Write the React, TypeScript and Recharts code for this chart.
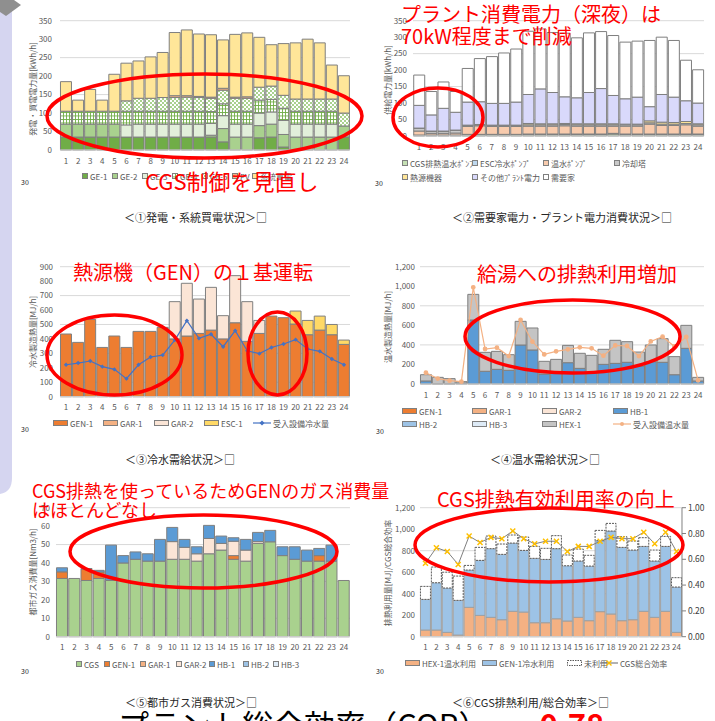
import React from 'react';
import { BarChart, Bar, ComposedChart, Line, XAxis, YAxis, CartesianGrid } from 'recharts';

const FONT = '"Noto Sans CJK JP", "Noto Sans", sans-serif';
const TICK = { fontSize: 8, fill: '#595959', fontFamily: FONT };
const EDGE = '#7f7f7f';
const GRID = '#d9d9d9';
const RED = '#ff0000';

const hours = ['1', '2', '3', '4', '5', '6', '7', '8', '9', '10', '11', '12', '13', '14', '15', '16', '17', '18', '19', '20', '21', '22', '23', '24'];

// ① 発電・系統買電状況 [kWh/h]
const ge1Out = [35, 35, 35, 35, 35, 35, 35, 35, 35, 35, 35, 35, 35, 22, 0, 0, 33, 35, 8, 0, 0, 0, 0, 35];
const ge2Out = [35, 35, 35, 35, 35, 0, 0, 0, 0, 0, 0, 0, 5, 36, 35, 35, 33, 35, 34, 35, 35, 35, 35, 30];
const ge3Out = [0, 0, 0, 0, 0, 33, 35, 35, 35, 35, 35, 35, 32, 35, 35, 35, 34, 33, 38, 35, 35, 35, 35, 0];
const ge4Out = [35, 35, 35, 35, 35, 37, 35, 35, 35, 35, 35, 35, 32, 32, 35, 35, 35, 34, 33, 35, 35, 35, 35, 0];
const ge5Out = [0, 0, 0, 0, 0, 28, 35, 35, 37, 37, 38, 37, 36, 37, 35, 35, 35, 36, 35, 33, 33, 33, 33, 35];
const pvOut = [0, 0, 0, 0, 0, 0, 0, 0, 0, 5, 4, 3, 3, 5, 3, 4, 0, 0, 0, 0, 0, 0, 0, 0];
const gridBuy = [80, 30, 59, 30, 100, 102, 101, 112, 122, 171, 178, 169, 169, 131, 170, 173, 135, 112, 140, 152, 162, 152, 92, 101];

// ② 需要家電力・プラント電力消費状況 [kWh/h]
const cgsPump = [3, 3, 3, 3, 4, 4, 4, 4, 4, 4, 4, 4, 4, 4, 4, 4, 6, 4, 4, 4, 4, 4, 4, 4];
const escPump = [0, 0, 0, 0, 1, 1, 1, 1, 1, 2, 2, 2, 2, 2, 2, 2, 2, 2, 2, 2, 2, 2, 2, 2];
const hotPump = [12, 5, 5, 6, 24, 26, 24, 24, 24, 24, 24, 24, 25, 24, 24, 24, 22, 24, 24, 30, 26, 26, 28, 24];
const coolTower = [8, 6, 6, 8, 3, 3, 3, 3, 3, 4, 4, 4, 4, 4, 4, 4, 4, 4, 4, 4, 4, 4, 4, 4];
const heatSource = [1, 1, 1, 1, 1, 1, 1, 1, 1, 4, 3, 3, 3, 3, 3, 3, 3, 2, 2, 6, 6, 5, 6, 3];
const otherPlant = [69, 49, 69, 54, 70, 69, 66, 66, 70, 88, 106, 95, 81, 79, 95, 107, 86, 77, 82, 43, 84, 77, 63, 63];
const customer = [92, 71, 80, 63, 102, 131, 142, 153, 161, 192, 182, 182, 193, 182, 181, 173, 182, 172, 170, 201, 174, 172, 123, 101];

// ③ 冷水需給状況 [MJ/h]
const genCold = [434, 376, 535, 341, 420, 341, 452, 452, 480, 400, 420, 438, 461, 400, 512, 383, 438, 558, 547, 503, 429, 461, 429, 362];
const gar1Cold = [0, 0, 0, 0, 0, 0, 0, 0, 0, 0, 0, 0, 0, 0, 0, 0, 0, 0, 0, 0, 0, 0, 0, 0];
const gar2Cold = [0, 0, 0, 0, 0, 0, 0, 0, 0, 258, 365, 238, 296, 161, 326, 275, 90, 0, 0, 0, 0, 0, 0, 0];
const escCold = [0, 0, 0, 0, 0, 0, 0, 0, 0, 0, 0, 0, 0, 0, 0, 0, 0, 0, 0, 90, 99, 97, 71, 30];
const coldDemand = [221, 233, 247, 208, 189, 125, 221, 275, 288, 392, 526, 404, 432, 346, 457, 318, 298, 341, 365, 395, 330, 314, 261, 221];

// ④ 温水需給状況 [MJ/h]
const zeros24 = [0, 0, 0, 0, 0, 0, 0, 0, 0, 0, 0, 0, 0, 0, 0, 0, 0, 0, 0, 0, 0, 0, 0, 0];
const hb1Hot = [31, 3, 3, 10, 655, 130, 150, 140, 399, 348, 102, 109, 218, 160, 116, 201, 211, 222, 184, 228, 222, 95, 365, 31];
const hexHot = [64, 65, 52, 14, 262, 194, 184, 160, 242, 225, 130, 143, 177, 154, 177, 154, 236, 211, 143, 171, 242, 185, 235, 37];
const hotDemand = [116, 55, 34, 24, 989, 358, 372, 286, 655, 433, 303, 334, 355, 375, 365, 290, 395, 389, 286, 436, 484, 385, 481, 38];

// ⑤ 都市ガス消費状況 [Nm3/h]
const cgsGas = [31.6, 31.6, 30.5, 31.6, 30.5, 40, 42, 41, 41, 42, 42, 41, 45, 47, 42, 41, 50.6, 51.5, 44, 42, 41, 41, 41, 30.5];
const genGas = [3.6, 0, 6.1, 3.5, 0, 0, 0, 0, 0, 0, 0, 0, 0, 0, 2, 0, 0, 0, 0, 0, 0, 3, 0, 0];
const gar2Gas = [0, 0, 0, 0, 0, 0, 0, 0, 0, 9.6, 6.5, 4, 8.3, 3.6, 7.8, 6, 1, 0, 0, 0, 0, 0, 0, 0];
const hb1Gas = [2.2, 0, 0.4, 0.9, 19.2, 4, 4, 4, 11.8, 7.7, 4.3, 3.8, 7.1, 4, 1.9, 5.8, 5, 6.2, 4.8, 6.8, 6, 3.9, 8.7, 0];

// ⑥ CGS排熱利用/総合効率
const hexUse = [62, 62, 40, 15, 273, 198, 180, 158, 236, 229, 130, 130, 167, 146, 180, 149, 233, 211, 149, 158, 236, 180, 236, 40];
const genUse = [285, 440, 413, 323, 347, 512, 639, 608, 635, 574, 599, 589, 652, 514, 524, 508, 660, 772, 682, 648, 604, 524, 604, 422];
const unused = [121, 146, 147, 226, 43, 121, 117, 96, 75, 124, 111, 103, 121, 100, 111, 100, 96, 71, 99, 84, 81, 102, 93, 87];
const cgsEff = [0.57, 0.69, 0.66, 0.56, 0.78, 0.73, 0.77, 0.76, 0.82, 0.76, 0.72, 0.74, 0.74, 0.66, 0.70, 0.70, 0.74, 0.77, 0.76, 0.76, 0.81, 0.72, 0.81, 0.66];

const ticks1 = [0, 50, 100, 150, 200, 250, 300, 350];
const ticks3 = [0, 100, 200, 300, 400, 500, 600, 700, 800, 900];
const ticks4 = [0, 200, 400, 600, 800, 1000, 1200];
const ticks5 = [0, 10, 20, 30, 40, 50, 60, 70];
const ticksEff = [0, 0.2, 0.4, 0.6, 0.8, 1.0];

const d1 = hours.map((h, i) => ({ h, a: ge1Out[i], b: ge2Out[i], c: ge3Out[i], d: ge4Out[i], e: ge5Out[i], f: pvOut[i], g: gridBuy[i] }));
const d2 = hours.map((h, i) => ({ h, a: cgsPump[i], b: escPump[i], c: hotPump[i], d: coolTower[i], e: heatSource[i], f: otherPlant[i], g: customer[i] }));
const d3 = hours.map((h, i) => ({ h, a: genCold[i], b: gar1Cold[i], c: gar2Cold[i], d: escCold[i], l: coldDemand[i] }));
const d4 = hours.map((h, i) => ({ h, a: zeros24[i], b: zeros24[i], c: zeros24[i], d: hb1Hot[i], e: zeros24[i], f: zeros24[i], g: hexHot[i], l: hotDemand[i] }));
const d5 = hours.map((h, i) => ({ h, a: cgsGas[i], b: genGas[i], c: zeros24[i], d: gar2Gas[i], e: hb1Gas[i], f: zeros24[i], g: zeros24[i] }));
const d6 = hours.map((h, i) => ({ h, a: hexUse[i], b: genUse[i], c: unused[i], l: cgsEff[i] }));

const fmtComma = (v: number) => v.toLocaleString('en-US');

type LI = { label: string; x: number; kind: 'sq' | 'wide' | 'line'; fill?: string; stroke?: string; dash?: boolean; marker?: 'dot' | 'diamond' | 'x'; mColor?: string };

function Legend({ y, items }: { y: number; items: LI[] }) {
  return (
    <>
      {items.map((it) => (
        <div key={it.label + it.x} style={{ position: 'absolute', left: it.x, top: y - 6, height: 12, display: 'flex', alignItems: 'center', fontSize: 8, color: '#595959', fontFamily: FONT, whiteSpace: 'nowrap' }}>
          {it.kind === 'line' ? (
            <svg width={18} height={8} style={{ display: 'block' }}>
              <line x1={0} y1={4} x2={18} y2={4} stroke={it.stroke} strokeWidth={1.2} />
              {it.marker === 'dot' && <circle cx={9} cy={4} r={2} fill={it.mColor} />}
              {it.marker === 'diamond' && <path d="M9,1.5L11.5,4L9,6.5L6.5,4Z" fill={it.mColor} />}
              {it.marker === 'x' && <path d="M6.5,1.5L11.5,6.5M6.5,6.5L11.5,1.5" stroke={it.mColor} strokeWidth={1.4} />}
            </svg>
          ) : (
            <svg width={it.kind === 'wide' ? 15 : 6} height={6} style={{ display: 'block' }}>
              <rect x={0.5} y={0.5} width={it.kind === 'wide' ? 14 : 5} height={5} fill={it.fill} stroke={it.stroke || EDGE} strokeWidth={1} strokeDasharray={it.dash ? '1.5 1' : undefined} />
            </svg>
          )}
          <span style={{ marginLeft: 2 }}>{it.label}</span>
        </div>
      ))}
    </>
  );
}

function Txt({ x, y, text, size = 11, color = '#262626', weight = 400 }: { x: number; y: number; text: string; size?: number; color?: string; weight?: number }) {
  return (
    <div style={{ position: 'absolute', left: x, top: y, fontSize: size, lineHeight: `${size}px`, color, fontWeight: weight, fontFamily: FONT, whiteSpace: 'nowrap' }}>{text}</div>
  );
}

function VLabel({ cx, cy, text }: { cx: number; cy: number; text: string }) {
  return (
    <div style={{ position: 'absolute', left: cx, top: cy, transform: 'translate(-50%, -50%) rotate(-90deg)', fontSize: 8, color: '#595959', fontFamily: FONT, whiteSpace: 'nowrap' }}>{text}</div>
  );
}

const XDot = (props: any) => {
  const { cx, cy } = props;
  if (cx == null || cy == null) return <g />;
  return <path d={`M${cx - 2.5},${cy - 2.5}L${cx + 2.5},${cy + 2.5}M${cx - 2.5},${cy + 2.5}L${cx + 2.5},${cy - 2.5}`} stroke="#ffc000" strokeWidth={1.5} />;
};
const DiaDot = (props: any) => {
  const { cx, cy } = props;
  if (cx == null || cy == null) return <g />;
  return <path d={`M${cx},${cy - 2.2}L${cx + 2.2},${cy}L${cx},${cy + 2.2}L${cx - 2.2},${cy}Z`} fill="#4472c4" />;
};

const xAxisCommon = { dataKey: 'h', interval: 0 as const, tick: TICK, tickLine: false, axisLine: { stroke: GRID }, height: 24 };

export default function App() {
  return (
    <div style={{ position: 'absolute', left: 0, top: 0, width: 715, height: 721, background: '#fff', overflow: 'hidden', fontFamily: FONT }}>
      <svg width={0} height={0} style={{ position: 'absolute' }}>
        <defs>
          <pattern id="pGrid" width={3} height={3.5} patternUnits="userSpaceOnUse">
            <rect width={3} height={3.5} fill="#ffffff" />
            <rect x={0} y={0} width={0.9} height={3.5} fill="#70ad47" />
            <rect x={0} y={0} width={3} height={0.9} fill="#70ad47" />
          </pattern>
          <pattern id="pCheck" width={4} height={4} patternUnits="userSpaceOnUse">
            <rect width={4} height={4} fill="#ffffff" />
            <rect x={0} y={0} width={2} height={2} fill="#a9d18e" />
            <rect x={2} y={2} width={2} height={2} fill="#a9d18e" />
          </pattern>
        </defs>
      </svg>

      {/* left decoration */}
      <svg width={30} height={500} style={{ position: 'absolute', left: 0, top: 0 }}>
        <path d="M0,8 L12,8 L12,478 Q12,492 0,494 Z" fill="#d5d5f0" />
        <path d="M0,0 L14,0 L21,5 L6,16 L0,12 Z" fill="#8f8f8f" />
      </svg>

      {/* ① */}
      <div style={{ position: 'absolute', left: 0, top: 0 }}>
        <BarChart width={360} height={175} data={d1} margin={{ top: 20.7, right: 10, bottom: 0, left: 0 }} barCategoryGap="4%">
          <CartesianGrid vertical={false} stroke={GRID} />
          <XAxis {...xAxisCommon} height={25} />
          <YAxis domain={[0, 350]} ticks={ticks1} tick={TICK} tickLine={false} axisLine={false} width={60} tickSize={6} tickMargin={2} />
          <Bar dataKey="a" stackId="s" fill="#70ad47" stroke={EDGE} isAnimationActive={false} />
          <Bar dataKey="b" stackId="s" fill="#a9d18e" stroke={EDGE} isAnimationActive={false} />
          <Bar dataKey="c" stackId="s" fill="#e2efda" stroke={EDGE} isAnimationActive={false} />
          <Bar dataKey="d" stackId="s" fill="url(#pGrid)" stroke={EDGE} isAnimationActive={false} />
          <Bar dataKey="e" stackId="s" fill="url(#pCheck)" stroke={EDGE} isAnimationActive={false} />
          <Bar dataKey="f" stackId="s" fill="#f4b183" stroke={EDGE} isAnimationActive={false} />
          <Bar dataKey="g" stackId="s" fill="#ffe699" stroke={EDGE} isAnimationActive={false} />
        </BarChart>
      </div>
      <VLabel cx={32} cy={89} text="発電・買電電力量[kWh/h]" />
      <Legend y={176} items={[
        { label: 'GE-1', x: 82, kind: 'sq', fill: '#70ad47' },
        { label: 'GE-2', x: 112, kind: 'sq', fill: '#a9d18e' },
        { label: 'GE-3', x: 142, kind: 'sq', fill: '#e2efda' },
        { label: 'GE-4', x: 172, kind: 'sq', fill: 'url(#pGrid)' },
        { label: 'GE-5', x: 202, kind: 'sq', fill: 'url(#pCheck)' },
        { label: 'PV', x: 232, kind: 'sq', fill: '#f4b183' },
        { label: '系統買電', x: 252, kind: 'sq', fill: '#ffe699' },
      ]} />
      <Txt x={21} y={179} text="30" size={7} />
      <Txt x={124} y={212} text="＜①発電・系統買電状況＞□" />

      {/* ② */}
      <div style={{ position: 'absolute', left: 355, top: 0 }}>
        <BarChart width={360} height={160} data={d2} margin={{ top: 20.7, right: 11, bottom: 0, left: 0 }} barCategoryGap="6%">
          <CartesianGrid vertical={false} stroke={GRID} />
          <XAxis {...xAxisCommon} />
          <YAxis domain={[0, 350]} ticks={ticks1} tick={TICK} tickLine={false} axisLine={false} width={58} tickSize={4} tickMargin={2} />
          <Bar dataKey="a" stackId="s" fill="#c5e0b4" stroke={EDGE} isAnimationActive={false} />
          <Bar dataKey="b" stackId="s" fill="#bdd7ee" stroke={EDGE} isAnimationActive={false} />
          <Bar dataKey="c" stackId="s" fill="#f8cbad" stroke={EDGE} isAnimationActive={false} />
          <Bar dataKey="d" stackId="s" fill="#c9c9c9" stroke={EDGE} isAnimationActive={false} />
          <Bar dataKey="e" stackId="s" fill="#ffe699" stroke={EDGE} isAnimationActive={false} />
          <Bar dataKey="f" stackId="s" fill="#d9d9fb" stroke={EDGE} isAnimationActive={false} />
          <Bar dataKey="g" stackId="s" fill="#ffffff" stroke={EDGE} isAnimationActive={false} />
        </BarChart>
      </div>
      <VLabel cx={387} cy={80} text="供給電力量[kWh/h]" />
      <Legend y={163} items={[
        { label: 'CGS排熱温水ﾎﾟﾝﾌﾟ', x: 402, kind: 'sq', fill: '#c5e0b4' },
        { label: 'ESC冷水ﾎﾟﾝﾌﾟ', x: 472, kind: 'sq', fill: '#bdd7ee' },
        { label: '温水ﾎﾟﾝﾌﾟ', x: 543, kind: 'sq', fill: '#f8cbad' },
        { label: '冷却塔', x: 614, kind: 'sq', fill: '#c9c9c9' },
      ]} />
      <Legend y={177} items={[
        { label: '熱源機器', x: 402, kind: 'sq', fill: '#ffe699' },
        { label: 'その他ﾌﾟﾗﾝﾄ電力', x: 472, kind: 'sq', fill: '#d9d9fb' },
        { label: '需要家', x: 543, kind: 'sq', fill: '#ffffff' },
      ]} />
      <Txt x={375} y={180} text="30" size={7} />
      <Txt x={452} y={212} text="＜②需要家電力・プラント電力消費状況＞□" />

      {/* ③ */}
      <div style={{ position: 'absolute', left: 0, top: 246 }}>
        <ComposedChart width={360} height={174.7} data={d3} margin={{ top: 20.7, right: 10, bottom: 0, left: 0 }} barCategoryGap="4%">
          <CartesianGrid vertical={false} stroke={GRID} />
          <XAxis {...xAxisCommon} />
          <YAxis domain={[0, 900]} ticks={ticks3} tick={TICK} tickLine={false} axisLine={false} width={60} tickSize={5} tickMargin={2} />
          <Bar dataKey="a" stackId="s" fill="#ed7d31" stroke={EDGE} isAnimationActive={false} />
          <Bar dataKey="b" stackId="s" fill="#f4b183" stroke={EDGE} isAnimationActive={false} />
          <Bar dataKey="c" stackId="s" fill="#fbe5d6" stroke={EDGE} isAnimationActive={false} />
          <Bar dataKey="d" stackId="s" fill="#ffd966" stroke={EDGE} isAnimationActive={false} />
          <Line dataKey="l" stroke="#4472c4" strokeWidth={1.2} dot={<DiaDot />} isAnimationActive={false} />
        </ComposedChart>
      </div>
      <VLabel cx={32} cy={332} text="冷水製造熱量[MJ/h]" />
      <Legend y={423} items={[
        { label: 'GEN-1', x: 53, kind: 'wide', fill: '#ed7d31' },
        { label: 'GAR-1', x: 103, kind: 'wide', fill: '#f4b183' },
        { label: 'GAR-2', x: 154, kind: 'wide', fill: '#fbe5d6' },
        { label: 'ESC-1', x: 204, kind: 'wide', fill: '#ffd966' },
        { label: '受入設備冷水量', x: 253, kind: 'line', stroke: '#4472c4', marker: 'diamond', mColor: '#4472c4' },
      ]} />
      <Txt x={21} y={426} text="30" size={7} />
      <Txt x={125} y={454} text="＜③冷水需給状況＞□" />

      {/* ④ */}
      <div style={{ position: 'absolute', left: 355, top: 246 }}>
        <ComposedChart width={360} height={162} data={d4} margin={{ top: 20.7, right: 11, bottom: 0, left: 0 }} barCategoryGap="4%">
          <CartesianGrid vertical={false} stroke={GRID} />
          <XAxis {...xAxisCommon} />
          <YAxis domain={[0, 1200]} ticks={ticks4} tickFormatter={fmtComma} tick={TICK} tickLine={false} axisLine={false} width={65} tickSize={3} tickMargin={2} />
          <Bar dataKey="a" stackId="s" fill="#ed7d31" stroke={EDGE} isAnimationActive={false} />
          <Bar dataKey="b" stackId="s" fill="#f4b183" stroke={EDGE} isAnimationActive={false} />
          <Bar dataKey="c" stackId="s" fill="#fbe5d6" stroke={EDGE} isAnimationActive={false} />
          <Bar dataKey="d" stackId="s" fill="#5b9bd5" stroke={EDGE} isAnimationActive={false} />
          <Bar dataKey="e" stackId="s" fill="#9dc3e6" stroke={EDGE} isAnimationActive={false} />
          <Bar dataKey="f" stackId="s" fill="#deebf7" stroke={EDGE} isAnimationActive={false} />
          <Bar dataKey="g" stackId="s" fill="#c4c4c4" stroke={EDGE} isAnimationActive={false} />
          <Line dataKey="l" stroke="#f4b183" strokeWidth={1.2} dot={{ r: 1.8, fill: '#f4b183', stroke: '#f4b183' }} isAnimationActive={false} />
        </ComposedChart>
      </div>
      <VLabel cx={387} cy={327} text="温水製造熱量[MJ/h]" />
      <Legend y={411} items={[
        { label: 'GEN-1', x: 402, kind: 'wide', fill: '#ed7d31' },
        { label: 'GAR-1', x: 472, kind: 'wide', fill: '#f4b183' },
        { label: 'GAR-2', x: 542, kind: 'wide', fill: '#fbe5d6' },
        { label: 'HB-1', x: 613, kind: 'wide', fill: '#5b9bd5' },
      ]} />
      <Legend y={424} items={[
        { label: 'HB-2', x: 402, kind: 'wide', fill: '#9dc3e6' },
        { label: 'HB-3', x: 472, kind: 'wide', fill: '#deebf7' },
        { label: 'HEX-1', x: 542, kind: 'wide', fill: '#c4c4c4' },
        { label: '受入設備温水量', x: 613, kind: 'line', stroke: '#f4b183', marker: 'dot', mColor: '#f4b183' },
      ]} />
      <Txt x={376} y={428} text="30" size={7} />
      <Txt x={490} y={454} text="＜④温水需給状況＞□" />

      {/* ⑤ */}
      <div style={{ position: 'absolute', left: 0, top: 487 }}>
        <BarChart width={360} height={173.7} data={d5} margin={{ top: 20.7, right: 10, bottom: 0, left: 0 }} barCategoryGap="4%">
          <CartesianGrid vertical={false} stroke={GRID} />
          <XAxis {...xAxisCommon} />
          <YAxis domain={[0, 70]} ticks={ticks5} tick={TICK} tickLine={false} axisLine={false} width={56} tickSize={4} tickMargin={2} />
          <Bar dataKey="a" stackId="s" fill="#a9d18e" stroke={EDGE} isAnimationActive={false} />
          <Bar dataKey="b" stackId="s" fill="#ed7d31" stroke={EDGE} isAnimationActive={false} />
          <Bar dataKey="c" stackId="s" fill="#f4b183" stroke={EDGE} isAnimationActive={false} />
          <Bar dataKey="d" stackId="s" fill="#fbe5d6" stroke={EDGE} isAnimationActive={false} />
          <Bar dataKey="e" stackId="s" fill="#5b9bd5" stroke={EDGE} isAnimationActive={false} />
          <Bar dataKey="f" stackId="s" fill="#9dc3e6" stroke={EDGE} isAnimationActive={false} />
          <Bar dataKey="g" stackId="s" fill="#deebf7" stroke={EDGE} isAnimationActive={false} />
        </BarChart>
      </div>
      <VLabel cx={32} cy={572} text="都市ガス消費量[Nm3/h]" />
      <Legend y={664} items={[
        { label: 'CGS', x: 76, kind: 'sq', fill: '#a9d18e' },
        { label: 'GEN-1', x: 104, kind: 'sq', fill: '#ed7d31' },
        { label: 'GAR-1', x: 140, kind: 'sq', fill: '#f4b183' },
        { label: 'GAR-2', x: 176, kind: 'sq', fill: '#fbe5d6' },
        { label: 'HB-1', x: 209, kind: 'sq', fill: '#5b9bd5' },
        { label: 'HB-2', x: 243, kind: 'sq', fill: '#9dc3e6' },
        { label: 'HB-3', x: 273, kind: 'sq', fill: '#deebf7' },
      ]} />
      <Txt x={21} y={668} text="30" size={7} />
      <Txt x={125} y={697} text="＜⑤都市ガス消費状況＞□" />

      {/* ⑥ */}
      <div style={{ position: 'absolute', left: 355, top: 487 }}>
        <ComposedChart width={360} height={173.7} data={d6} margin={{ top: 20.7, right: 0, bottom: 0, left: 0 }} barCategoryGap="4%">
          <CartesianGrid vertical={false} stroke={GRID} yAxisId="left" />
          <XAxis {...xAxisCommon} />
          <YAxis yAxisId="left" domain={[0, 1200]} ticks={ticks4} tickFormatter={fmtComma} tick={TICK} tickLine={false} axisLine={false} width={65} tickSize={3} tickMargin={2} />
          <YAxis yAxisId="right" orientation="right" domain={[0, 1]} ticks={ticksEff} tickFormatter={(v: number) => v.toFixed(2)} tick={{ ...TICK, fontSize: 8.5, fill: '#404040' }} tickLine={{ stroke: '#7f7f7f' }} axisLine={{ stroke: '#7f7f7f' }} width={33} tickSize={4} tickMargin={2} />
          <Bar yAxisId="left" dataKey="a" stackId="s" fill="#f4b183" stroke="#a0a0a0" isAnimationActive={false} />
          <Bar yAxisId="left" dataKey="b" stackId="s" fill="#9dc3e6" stroke="#a0a0a0" isAnimationActive={false} />
          <Bar yAxisId="left" dataKey="c" stackId="s" fill="#ffffff" stroke="#595959" strokeDasharray="2 1" isAnimationActive={false} />
          <Line yAxisId="right" dataKey="l" stroke="#7f7f7f" strokeWidth={1} dot={<XDot />} isAnimationActive={false} />
        </ComposedChart>
      </div>
      <VLabel cx={387} cy={573} text="排熱利用量[MJ]/CGS総合効率" />
      <Legend y={663} items={[
        { label: 'HEX-1温水利用', x: 405, kind: 'wide', fill: '#f4b183' },
        { label: 'GEN-1冷水利用', x: 482, kind: 'wide', fill: '#9dc3e6' },
        { label: '未利用', x: 567, kind: 'wide', fill: '#ffffff', stroke: '#595959', dash: true },
        { label: 'CGS総合効率', x: 600, kind: 'line', stroke: '#7f7f7f', marker: 'x', mColor: '#ffc000' },
      ]} />
      <Txt x={376} y={668} text="30" size={7} />
      <Txt x={452} y={697} text="＜⑥CGS排熱利用/総合効率＞□" />

      {/* bottom headline */}
      <div style={{ position: 'absolute', left: 118, top: 708, fontSize: 31, lineHeight: '31px', fontFamily: FONT, whiteSpace: 'nowrap', color: '#000' }}>
        プラント総合効率（COP）<span style={{ color: RED, fontWeight: 700, marginLeft: 50 }}>0.78</span>
      </div>

      {/* annotations */}
      <svg width={715} height={721} style={{ position: 'absolute', left: 0, top: 0, pointerEvents: 'none' }}>
        <g fill="none" stroke={RED} strokeWidth={3.5}>
          <ellipse cx={204.5} cy={116} rx={157.5} ry={42} />
          <ellipse cx={438} cy={117.5} rx={45} ry={29.5} />
          <ellipse cx={114.5} cy={355} rx={67.5} ry={40} />
          <ellipse cx={277.5} cy={353.5} rx={29.5} ry={41.5} />
          <ellipse cx={572.5} cy={336.5} rx={107.5} ry={36.5} />
          <ellipse cx={203.5} cy={551.5} rx={133.5} ry={36.5} />
          <ellipse cx={549} cy={545} rx={134} ry={37} />
        </g>
      </svg>
      <Txt x={145} y={169} text="CGS制御を見直し" size={22} color={RED} />
      <Txt x={401} y={4} text="プラント消費電力（深夜）は" size={20} color={RED} />
      <Txt x={401} y={26} text="70kW程度まで削減" size={20} color={RED} />
      <Txt x={73} y={262} text="熱源機（GEN）の１基運転" size={20} color={RED} />
      <Txt x={477} y={264} text="給湯への排熱利用増加" size={20} color={RED} />
      <Txt x={32} y={481} text="CGS排熱を使っているためGENのガス消費量" size={18} color={RED} />
      <Txt x={32} y={500} text="はほとんどなし" size={18} color={RED} />
      <Txt x={437} y={489} text="CGS排熱有効利用率の向上" size={20} color={RED} />
    </div>
  );
}
